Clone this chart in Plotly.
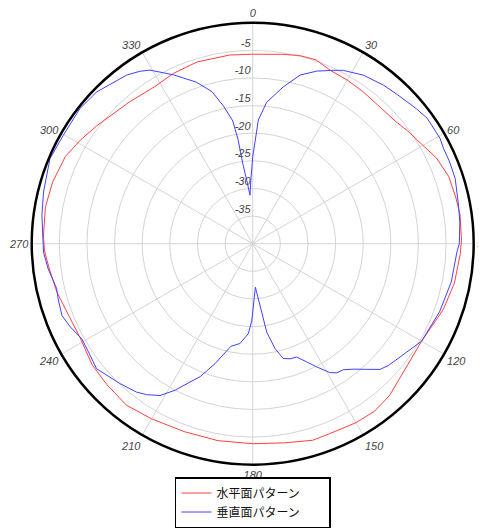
import plotly.graph_objects as go

# Horizontal-plane pattern (red)
h_theta = [0, 9, 14, 19, 24, 30, 36, 43, 50, 54, 59, 65, 71, 77, 82, 89, 93, 101, 109, 120,
           128, 138, 144, 150, 158, 163, 171, 180, 190, 200, 210, 218, 226, 233, 241, 248,
           256, 263, 268, 272, 280, 287, 295, 301, 307, 319, 328, 335, 343, 353, 360]
h_db = [-5.7, -5.3, -4.9, -4.8, -5.6, -5.8, -6.0, -6.2, -5.9, -5.3, -4.6, -3.3, -2.5, -2.3, -2.1,
        -2.2, -2.4, -2.8, -3.5, -4.7, -4.4, -3.0, -2.5, -2.6, -2.9, -2.8, -3.5, -3.8, -3.8, -3.8,
        -3.4, -2.9, -3.3, -3.6, -4.4, -4.3, -3.5, -2.9, -2.3, -2.1, -1.9, -2.1, -2.6, -3.6, -4.6,
        -6.0, -6.5, -6.0, -5.6, -5.6, -5.7]

# Vertical-plane pattern (blue)
v_theta = [0, 1.3, 2.6, 5.6, 11, 15.7, 20.3, 24.9, 27.6, 33.3, 39.5, 44.1, 50.5, 54.3, 60.7,
           63.5, 67.5, 72.2, 79.4, 84, 90, 92.3, 100.9, 110, 120, 125.1, 131.9, 134.6, 137.8,
           141.3, 144.3, 146.9, 149.1, 152.6, 155.5, 158.8, 162, 165.1, 168, 171, 172.5, 176.5,
           180.7, 182.8, 187.2, 192, 197.5, 201.6, 204.4, 207.9, 211.4, 215.1, 218, 223.5,
           231.3, 236.6, 240.9, 245.5, 249.4, 254.2, 257.1, 263, 267.7, 277.7, 283.9, 292.8,
           299.8, 308, 314.2, 323.2, 326.8, 329.4, 334.8, 340.7, 345, 348, 350.8, 352, 353, 355,
           356.8, 358.5, 360]
v_db = [-24.3, -21.6, -17.6, -14.3, -11.1, -8.3, -6.7, -5.4, -4.6, -3.5, -2.8, -2.4, -1.6, -1.1,
        -1.1, -1.4, -1.4, -1.5, -2.1, -2.3, -2.6, -3.0, -3.4, -4.0, -4.7, -5.9, -7.0, -7.6, -9.3,
        -10.9, -11.9, -12.1, -12.8, -14.9, -16.5, -18.0, -18.1, -18.5, -20.6, -23.8, -27.5,
        -32.1, -26.0, -23.7, -21.8, -21.0, -17.2, -14.1, -12.5, -10.0, -7.8, -6.6, -5.9, -5.1,
        -3.8, -4.4, -4.6, -3.7, -3.1, -3.4, -3.6, -2.7, -2.1, -1.5, -1.0, -0.2, -0.5, -0.3,
        -0.6, -1.9, -2.7, -3.5, -6.2, -9.0, -11.5, -14.5, -17.5, -21.0, -25.5, -29.0, -31.2,
        -28.2, -24.3]

ang_ticks = list(range(0, 360, 30))
ang_labels = [str(a) for a in ang_ticks]
rad_ticks = [-35, -30, -25, -20, -15, -10, -5]
rad_labels = [str(v) + "<br> " for v in rad_ticks]
series_names = ["水平面パターン", "垂直面パターン"]

fig = go.Figure()
fig.add_trace(go.Scatterpolar(r=h_db, theta=h_theta, mode="lines",
                              name=series_names[0] + "\u3000\u3000",
                              line=dict(color="rgb(255,64,64)", width=1)))
fig.add_trace(go.Scatterpolar(r=v_db, theta=v_theta, mode="lines",
                              name=series_names[1] + "\u3000\u3000",
                              line=dict(color="rgb(64,64,255)", width=1)))

tick_font = dict(family="Liberation Sans", size=11, color="#444", style="italic")

fig.update_layout(
    width=486, height=529,
    margin=dict(l=0, r=0, t=0, b=0),
    paper_bgcolor="white",
    polar=dict(
        domain=dict(x=[0.04877, 0.9582], y=[0.13667, 0.97221]),
        bgcolor="white",
        angularaxis=dict(
            rotation=90, direction="clockwise",
            tickmode="array", tickvals=ang_ticks, ticktext=ang_labels,
            showline=True, linecolor="black", linewidth=2.5,
            gridcolor="#d4d4d4", gridwidth=1,
            ticks="",
            tickfont=tick_font,
        ),
        radialaxis=dict(
            range=[-40, 0], angle=90, tickangle=90,
            tickmode="array", tickvals=rad_ticks, ticktext=rad_labels,
            showline=False, ticks="", side="counterclockwise",
            gridcolor="#d4d4d4", gridwidth=1,
            tickfont=tick_font,
        ),
    ),
    showlegend=True,
    legend=dict(
        x=0.504, xanchor="center", y=0.017, yanchor="bottom",
        bordercolor="black", borderwidth=1.5, bgcolor="white",
        font=dict(family="Noto Sans CJK JP", size=12, color="#111"),
        tracegroupgap=0,
    ),
)

fig.write_html("out.html")
